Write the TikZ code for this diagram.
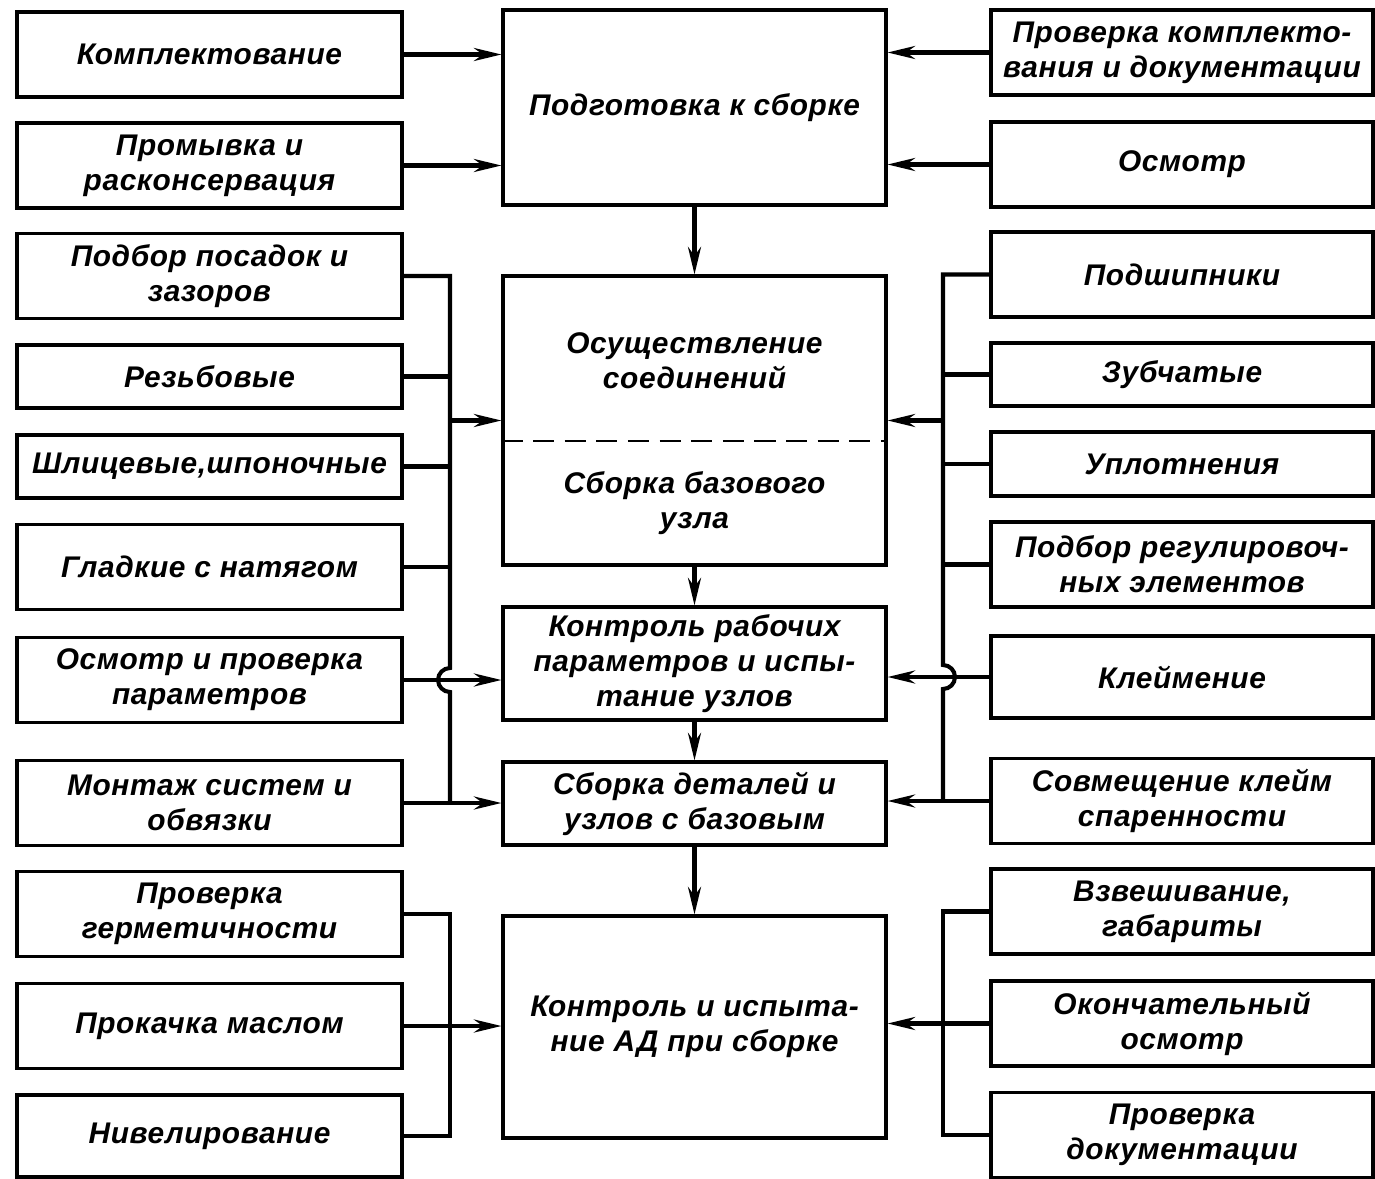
\documentclass[tikz,border=0pt]{standalone}
\usepackage{fontspec}
\setmainfont{Liberation Sans}[LetterSpace=2]
\usetikzlibrary{arrows.meta}

\tikzset{
	blk/.style={draw, line width=1.8pt, align=center, inner sep=2pt,
		font=\bfseries\itshape\fontsize{17}{20}\selectfont},
	lblk/.style={blk, minimum width=7.7cm, minimum height=1.7cm},
	cblk/.style={blk, minimum width=7.66cm},
	rblk/.style={blk, minimum width=7.64cm, minimum height=1.7cm},
	txt/.style={align=center, font=\bfseries\itshape\fontsize{17}{20}\selectfont},
	wire/.style={line width=2.3pt},
	arrw/.style={line width=2.3pt, -{Stealth[length=0.55cm, width=0.26cm]}},
}

\begin{document}
\begin{tikzpicture}[x=0.02cm, y=-0.02cm]
		\useasboundingbox (0,0) rectangle (1375,1179);
		
		% left column
		\node[lblk] (kompl) at (209.5,54.5) {Комплектование};
		\node[lblk] (promyv) at (209.5,165.5) {Промывка и\\расконсервация};
		\node[lblk] (podbor) at (209.5,276) {Подбор посадок и\\зазоров};
		\node[lblk, minimum height=1.26cm] (rezb) at (209.5,376.5) {Резьбовые};
		\node[lblk, minimum height=1.26cm] (shlic) at (209.5,466.5) {Шлицевые,шпоночные};
		\node[lblk] (gladk) at (209.5,567) {Гладкие с натягом};
		\node[lblk] (osmotrL) at (209.5,680) {Осмотр и проверка\\параметров};
		\node[lblk] (montazh) at (209.5,803) {Монтаж систем и\\обвязки};
		\node[lblk] (germet) at (209.5,914) {Проверка\\герметичности};
		\node[lblk] (prokach) at (209.5,1026) {Прокачка маслом};
		\node[lblk, minimum height=1.64cm] (nivel) at (209.5,1136) {Нивелирование};
		
		% centre column
		\node[cblk, minimum height=3.9cm] (podgot) at (694.5,107.5) {Подготовка к сборке};
		\node[cblk, minimum height=5.78cm] (osush) at (694.5,420.5) {};
		\node[txt] (osushT) at (694.5,361) {Осуществление\\соединений};
		\node[txt] (bazT) at (694.5,503) {Сборка базового\\узла};
		\coordinate (cut) at (694.5,441);
		\node[cblk, minimum height=2.26cm] (kontrol) at (694.5,663.5) {Контроль рабочих\\параметров и испы-\\тание узлов};
		\node[cblk, minimum height=1.66cm] (sborkaDet) at (694.5,803.5) {Сборка деталей и\\узлов с базовым};
		\node[cblk, minimum height=4.44cm] (kontrAD) at (694.5,1027) {Контроль и испыта-\\ние АД при сборке};
		
		% right column
		\node[rblk] (provKompl) at (1182,52.5) {Проверка комплекто-\\вания и документации};
		\node[rblk] (osmotr) at (1182,164.5) {Осмотр};
		\node[rblk] (podship) at (1182,274.5) {Подшипники};
		\node[rblk, minimum height=1.26cm] (zubch) at (1182,374.5) {Зубчатые};
		\node[rblk, minimum height=1.28cm] (uplot) at (1182,464) {Уплотнения};
		\node[rblk] (podbRegul) at (1182,564.5) {Подбор регулировоч-\\ных элементов};
		\node[rblk, minimum height=1.64cm] (kleim) at (1182,677) {Клеймение};
		\node[rblk] (sovmesh) at (1182,801) {Совмещение клейм\\спаренности};
		\node[rblk] (vzvesh) at (1182,911.5) {Взвешивание,\\габариты};
		\node[rblk] (okonch) at (1182,1023.5) {Окончательный\\осмотр};
		\node[rblk] (provDok) at (1182,1135) {Проверка\\документации};
		
		\coordinate (lbus) at (450,0);
		\coordinate (rbus) at (943,0);
		
		\draw[line width=1.4pt, dash pattern=on 12pt off 6pt] (cut -| osush.west) -- (cut -| osush.east);
		
		% main chain
		\draw[arrw] (podgot.south) -- (osush.north);
		\draw[arrw] (osush.south) -- (kontrol.north);
		\draw[arrw] (kontrol.south) -- (sborkaDet.north);
		\draw[arrw] (sborkaDet.south) -- (kontrAD.north);
		
		% preparation
		\draw[arrw] (kompl.east) -- (kompl.east -| podgot.west);
		\draw[arrw] (promyv.east) -- (promyv.east -| podgot.west);
		\draw[arrw] (provKompl.west) -- (provKompl.west -| podgot.east);
		\draw[arrw] (osmotr.west) -- (osmotr.west -| podgot.east);
		
		% left bus
		\draw[wire] (podbor.east) -| ([yshift=0.24cm]osmotrL.east -| lbus)
			arc[start angle=90, end angle=270, radius=0.24cm] -- (montazh.east -| lbus);
		\draw[wire] (rezb.east) -- (rezb.east -| lbus);
		\draw[wire] (shlic.east) -- (shlic.east -| lbus);
		\draw[wire] (gladk.east) -- (gladk.east -| lbus);
		\draw[arrw] (lbus |- osush.west) -- (osush.west);
		\draw[arrw] (osmotrL.east) -- (osmotrL.east -| kontrol.west);
		\draw[arrw] (montazh.east) -- (montazh.east -| sborkaDet.west);
		
		% right bus
		\draw[wire] (podship.west) -| ([yshift=0.24cm]kleim.west -| rbus)
			arc[start angle=90, end angle=-90, radius=0.24cm] -- (sovmesh.west -| rbus);
		\draw[wire] (zubch.west) -- (zubch.west -| rbus);
		\draw[wire] (uplot.west) -- (uplot.west -| rbus);
		\draw[wire] (podbRegul.west) -- (podbRegul.west -| rbus);
		\draw[arrw] (rbus |- osush.east) -- (osush.east);
		\draw[arrw] (kleim.west) -- (kleim.west -| kontrol.east);
		\draw[arrw] (sovmesh.west) -- (sovmesh.west -| sborkaDet.east);
		
		% final checks
		\draw[wire] (germet.east) -| (lbus |- nivel.east) -- (nivel.east);
		\draw[arrw] (prokach.east) -- (prokach.east -| kontrAD.west);
		\draw[wire] (vzvesh.west) -| (rbus |- provDok.west) -- (provDok.west);
		\draw[arrw] (okonch.west) -- (okonch.west -| kontrAD.east);
	\end{tikzpicture}
\end{document}
